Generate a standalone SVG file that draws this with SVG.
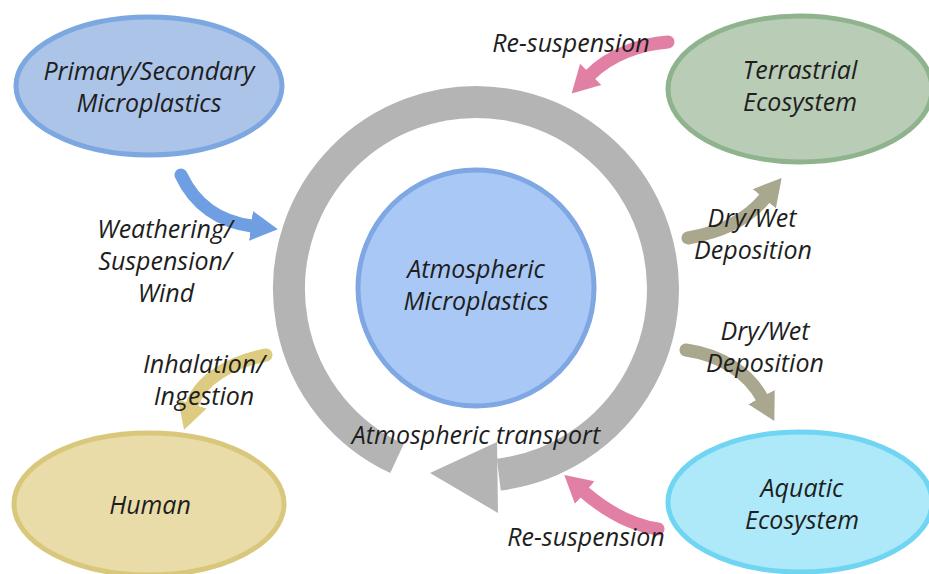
<svg xmlns="http://www.w3.org/2000/svg" width="929" height="574" viewBox="0 0 929 574">
<style>
.t{font-family:"Open Sans","Noto Sans","Liberation Sans",sans-serif;font-style:italic;font-size:25px;fill:#1e1e1e;text-anchor:middle}
.sh{fill:none;stroke-width:13;stroke-linecap:round}
</style>
<defs>
<marker id="hBlue" markerUnits="userSpaceOnUse" markerWidth="30" markerHeight="32" viewBox="0 -16 30 32" refX="1" refY="0" orient="auto"><path d="M0,-15 L27,0 L0,15 Z" fill="#6f9ee3"/></marker>
<marker id="hYel" markerUnits="userSpaceOnUse" markerWidth="30" markerHeight="32" viewBox="0 -16 30 32" refX="1" refY="0" orient="auto"><path d="M0,-15 L27,0 L0,15 Z" fill="#dccb80"/></marker>
<marker id="hTau" markerUnits="userSpaceOnUse" markerWidth="30" markerHeight="32" viewBox="0 -16 30 32" refX="1" refY="0" orient="auto"><path d="M0,-15 L27,0 L0,15 Z" fill="#aaa78f"/></marker>
<marker id="hPink" markerUnits="userSpaceOnUse" markerWidth="30" markerHeight="32" viewBox="0 -16 30 32" refX="1" refY="0" orient="auto"><path d="M0,-15 L27,0 L0,15 Z" fill="#e27fa4"/></marker>
</defs>
<rect width="929" height="574" fill="#fff"/>

<g id="transport-ring">
<path d="M397,458.5 A187,187 0 1 1 498.8,474.6" fill="none" stroke="#b4b4b4" stroke-width="32"/>
<polygon points="497,442 498,513 430,473" fill="#b4b4b4"/>
</g>

<g id="connectors">
<path class="sh" d="M181,175 C195,205 220,222 252,226" stroke="#6f9ee3" marker-end="url(#hBlue)"/>
<path class="sh" d="M266,355 C230,362 200,380 192,405" stroke="#dccb80" marker-end="url(#hYel)"/>
<path class="sh" d="M688,238 C720,232 745,222 765,198" stroke="#aaa78f" marker-end="url(#hTau)"/>
<path class="sh" d="M686,350 C720,355 748,372 762,398" stroke="#aaa78f" marker-end="url(#hTau)"/>
<path class="sh" d="M668,42 C640,44 610,55 590,75" stroke="#e27fa4" marker-end="url(#hPink)"/>
<path class="sh" d="M658,529 C630,525 605,510 584,492" stroke="#e27fa4" marker-end="url(#hPink)"/>
</g>

<g id="atmospheric-microplastics">
<circle cx="476" cy="288" r="118" fill="#a9c8f5" stroke="#7ea7e3" stroke-width="5"/>
<text class="t" x="476" y="278">Atmospheric</text>
<text class="t" x="476" y="310">Microplastics</text>
</g>

<g id="primary-secondary">
<ellipse cx="149" cy="86" rx="133" ry="69" fill="#abc4e8" stroke="#7ca7e0" stroke-width="5"/>
<text class="t" x="149" y="80">Primary/Secondary</text>
<text class="t" x="149" y="112">Microplastics</text>
</g>

<g id="terrestrial">
<ellipse cx="800" cy="89" rx="132" ry="73" fill="#b9ccb6" stroke="#8fb38c" stroke-width="5"/>
<text class="t" x="800" y="79">Terrastrial</text>
<text class="t" x="800" y="111">Ecosystem</text>
</g>

<g id="human">
<ellipse cx="149" cy="504" rx="135" ry="71" fill="#e9dca8" stroke="#d9c77b" stroke-width="5"/>
<text class="t" x="150" y="514">Human</text>
</g>

<g id="aquatic">
<ellipse cx="800" cy="502" rx="132" ry="70" fill="#aee9f9" stroke="#6fd5f2" stroke-width="5"/>
<text class="t" x="802" y="497">Aquatic</text>
<text class="t" x="802" y="529">Ecosystem</text>
</g>

<g id="labels">
<text class="t" x="571" y="52">Re-suspension</text>
<text class="t" x="165" y="238">Weathering/</text>
<text class="t" x="165" y="270">Suspension/</text>
<text class="t" x="166" y="302">Wind</text>
<text class="t" x="204" y="373">Inhalation/</text>
<text class="t" x="204" y="405">Ingestion</text>
<text class="t" x="752" y="227">Dry/Wet</text>
<text class="t" x="753" y="259">Deposition</text>
<text class="t" x="765" y="340">Dry/Wet</text>
<text class="t" x="765" y="372">Deposition</text>
<text class="t" x="476" y="444">Atmospheric transport</text>
<text class="t" x="586" y="546">Re-suspension</text>
</g>
</svg>
